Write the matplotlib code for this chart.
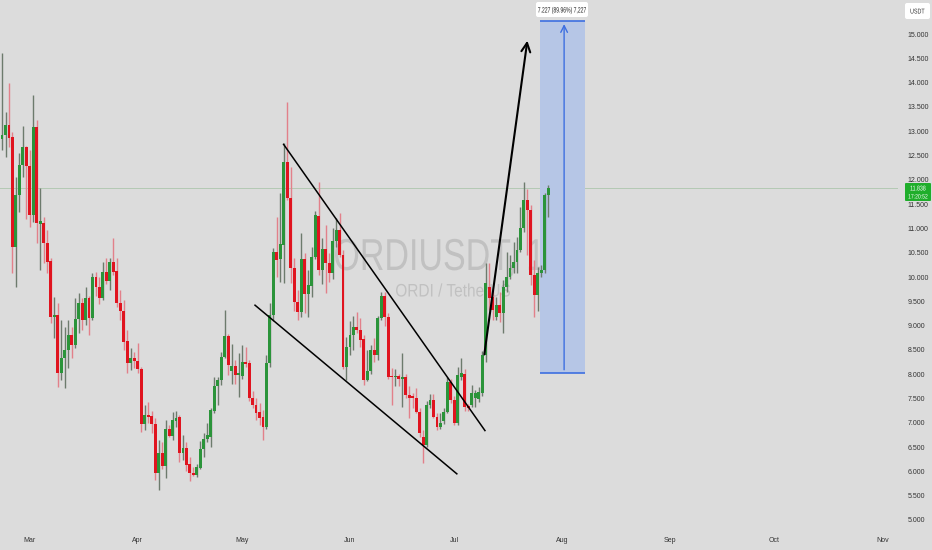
import numpy as np
import pandas as pd
import matplotlib
matplotlib.use("Agg")
import matplotlib.pyplot as plt
import matplotlib.dates as mdates
from matplotlib.textpath import TextPath
from matplotlib.patches import PathPatch, FancyBboxPatch
from matplotlib.font_manager import FontProperties
from matplotlib.transforms import Affine2D, IdentityTransform

# daily candles, first one is 2025-02-21
start_day = "2025-02-21"
opens = [12.84, 12.92, 13.13, 12.88, 10.62, 11.69, 12.30, 12.67, 12.28, 11.28,
         13.09, 11.09, 11.11, 10.70, 10.33, 9.18, 9.22, 8.02, 8.33, 8.50,
         8.81, 8.60, 9.14, 9.47, 9.12, 9.57, 9.16, 10.00, 9.79, 9.57,
         10.10, 9.92, 10.31, 10.12, 9.47, 9.30, 8.68, 8.23, 8.33, 8.27,
         8.10, 6.98, 7.16, 7.14, 6.98, 5.97, 6.38, 6.11, 6.87, 6.73,
         7.04, 7.12, 6.38, 6.48, 6.15, 5.97, 5.93, 6.07, 6.46, 6.67,
         6.71, 7.24, 7.76, 7.88, 8.35, 8.79, 8.06, 8.16, 7.98, 7.96,
         8.25, 8.23, 7.51, 7.37, 7.22, 7.12, 6.91, 8.23, 9.22, 10.51,
         10.38, 10.66, 12.37, 11.63, 10.19, 9.49, 9.28, 10.37, 9.65, 9.82,
         10.41, 11.26, 10.14, 10.57, 10.28, 10.08, 10.74, 10.97, 10.45, 8.15,
         8.56, 8.81, 8.97, 8.90, 8.72, 7.88, 8.07, 8.50, 8.40, 9.16,
         9.61, 9.18, 7.96, 7.94, 7.97, 7.90, 7.94, 7.57, 7.55, 7.51,
         7.22, 6.71, 6.54, 7.37, 7.47, 7.12, 6.91, 7.04, 7.22, 7.84,
         7.47, 7.00, 7.94, 8.00, 7.35, 7.37, 7.51, 7.49, 7.61, 8.40,
         9.79, 9.59, 9.18, 9.42, 9.26, 9.79, 10.00, 10.19, 10.31, 10.55,
         11.00, 11.58, 11.38, 10.04, 9.63, 10.08, 10.14, 11.69]
closes = [12.92, 13.13, 12.86, 10.62, 11.69, 12.30, 12.67, 12.28, 11.28, 13.09,
          11.11, 11.15, 10.70, 10.31, 9.18, 9.22, 8.02, 8.33, 8.50, 8.81,
          8.60, 9.14, 9.47, 9.12, 9.57, 9.16, 10.00, 9.79, 9.57, 10.10,
          9.92, 10.31, 10.10, 9.47, 9.30, 8.66, 8.23, 8.33, 8.27, 8.10,
          6.98, 7.16, 7.12, 6.98, 5.97, 6.38, 6.11, 6.87, 6.73, 7.06,
          7.10, 6.38, 6.48, 6.13, 5.97, 5.93, 6.09, 6.46, 6.67, 6.75,
          7.27, 7.76, 7.88, 8.35, 8.79, 8.19, 8.16, 7.98, 8.02, 8.25,
          8.20, 7.51, 7.37, 7.20, 7.10, 6.91, 8.23, 9.22, 10.51, 10.36,
          10.68, 12.37, 11.63, 10.19, 9.49, 9.28, 10.37, 9.65, 9.84, 10.41,
          11.28, 10.14, 10.57, 10.28, 10.08, 10.74, 10.97, 10.46, 8.15, 8.56,
          8.81, 8.97, 8.90, 8.70, 7.88, 8.07, 8.50, 8.40, 9.16, 9.61,
          9.18, 7.94, 7.94, 7.97, 7.90, 7.95, 7.57, 7.50, 7.51, 7.22,
          6.79, 6.54, 7.37, 7.47, 7.12, 6.91, 7.00, 7.22, 7.84, 7.47,
          7.00, 7.98, 8.02, 7.33, 7.30, 7.61, 7.61, 7.63, 8.40, 9.88,
          9.57, 9.32, 9.42, 9.26, 9.79, 10.00, 10.19, 10.31, 10.55, 11.00,
          11.58, 11.38, 10.04, 9.63, 10.08, 10.14, 11.69, 11.838]
highs = [14.61, 13.40, 13.99, 12.98, 12.06, 12.55, 13.11, 12.69, 12.61, 13.74,
         13.23, 11.83, 11.23, 10.97, 10.39, 9.59, 9.47, 9.12, 8.97, 9.12,
         8.97, 9.57, 9.67, 9.57, 9.79, 9.60, 10.08, 10.10, 10.00, 10.31,
         10.40, 10.40, 10.80, 10.39, 9.73, 9.53, 8.91, 8.54, 8.46, 8.64,
         8.15, 7.37, 7.43, 7.25, 7.10, 6.65, 6.60, 7.06, 6.95, 7.23,
         7.25, 7.16, 6.75, 6.60, 6.30, 6.10, 6.15, 6.62, 6.80, 7.00,
         7.31, 7.94, 7.94, 8.46, 9.32, 8.82, 8.62, 8.30, 8.44, 8.60,
         8.55, 8.30, 7.65, 7.50, 7.40, 7.27, 8.40, 9.46, 10.60, 11.23,
         11.73, 12.76, 13.60, 12.26, 10.40, 9.73, 10.90, 10.50, 10.14, 10.62,
         11.35, 11.95, 10.80, 11.07, 10.50, 11.00, 11.21, 11.32, 10.55, 8.77,
         9.10, 9.20, 9.28, 9.15, 8.81, 8.50, 8.60, 8.74, 9.20, 9.70,
         9.70, 9.25, 8.13, 8.10, 8.00, 8.44, 8.00, 7.75, 7.62, 7.72,
         7.30, 6.85, 7.45, 7.60, 7.60, 7.20, 7.20, 7.30, 7.94, 7.90,
         7.55, 8.15, 8.33, 8.10, 7.38, 7.78, 7.68, 7.74, 8.47, 10.29,
         10.29, 9.73, 9.59, 9.69, 9.94, 10.51, 10.45, 10.72, 10.82, 11.44,
         11.95, 11.82, 11.48, 10.35, 10.20, 10.25, 11.73, 11.89]
lows = [12.61, 12.47, 12.67, 10.08, 9.79, 11.34, 12.06, 11.20, 11.03, 11.13,
        10.70, 10.14, 10.29, 10.08, 9.05, 8.74, 7.74, 7.88, 7.72, 8.13,
        8.33, 8.54, 8.85, 8.91, 9.01, 8.80, 9.12, 9.60, 9.45, 9.53,
        9.85, 9.74, 10.04, 9.38, 9.12, 8.50, 8.02, 8.09, 8.13, 8.02,
        6.82, 6.85, 7.00, 6.80, 5.82, 5.62, 6.05, 5.86, 6.70, 6.65,
        6.92, 6.20, 6.23, 6.00, 5.80, 5.90, 5.88, 6.05, 6.30, 6.60,
        6.50, 7.20, 7.37, 7.78, 8.33, 7.99, 7.80, 7.80, 7.53, 7.90,
        8.15, 7.45, 7.30, 7.05, 6.95, 6.65, 6.88, 8.15, 9.10, 10.00,
        9.90, 9.88, 11.58, 9.88, 9.30, 9.12, 9.18, 9.26, 9.18, 9.59,
        10.38, 10.04, 9.85, 9.67, 9.90, 9.95, 10.62, 10.41, 8.10, 7.88,
        8.40, 8.50, 8.85, 8.55, 7.78, 7.85, 8.00, 8.25, 8.30, 9.12,
        9.00, 7.90, 7.37, 7.75, 7.75, 7.33, 7.50, 7.10, 7.30, 7.20,
        6.70, 6.17, 6.50, 7.30, 7.10, 6.85, 6.88, 6.98, 7.20, 7.40,
        6.95, 6.96, 7.88, 7.25, 7.25, 7.33, 7.33, 7.43, 7.55, 8.25,
        9.32, 9.12, 9.12, 9.08, 8.85, 9.69, 9.95, 10.08, 10.08, 10.51,
        10.93, 10.45, 9.84, 9.18, 9.30, 10.00, 10.08, 11.23]

last_price = 11.838
last_time = "17:20:52"
price_ticks = np.arange(5.0, 15.01, 0.5)
month_ticks = ["2025-03-01", "2025-04-01", "2025-05-01", "2025-06-01", "2025-07-01",
               "2025-08-01", "2025-09-01", "2025-10-01", "2025-11-01"]

# drawings on the chart (date, price)
upper_line = [("2025-05-12 22:00", 12.73), ("2025-07-09 19:00", 6.84)]
lower_line = [("2025-05-04 17:00", 9.42), ("2025-07-01 17:00", 5.95)]
target_arrow = [("2025-07-09 12:00", 8.35), ("2025-07-22 02:00", 14.92)]
range_left, range_right, range_mid = "2025-07-25 14:00", "2025-08-07 12:00", "2025-08-01 13:00"
range_low, range_high = 8.034, 15.261
range_label = "7.227 (89.96%) 7,227"

bg = "#dcdcdc"
up_col, down_col = "#2b943a", "#e0141f"
up_wick, down_wick = "#6d7b6d", "#e2808a"
W, H = 932, 550

days = mdates.date2num(pd.date_range(start_day, periods=len(closes)))
o = np.array(opens); c = np.array(closes); h = np.array(highs); l = np.array(lows)
up = c >= o


def d(s):
    return mdates.date2num(pd.Timestamp(s))


def squeezed(target, x, y, s, cap_px, width_px, color, ha="left", zorder=0):
    # text drawn as a path so it can be narrowed like the screenshot; x, y = pixels from top-left, y = baseline
    tp = TextPath((0, 0), s, size=1, prop=FontProperties(family="Liberation Sans"))
    k = cap_px / 0.716
    ext = tp.get_extents()
    sx = width_px / (ext.width * k)
    left = x if ha == "left" else x - width_px / 2
    tr = Affine2D().translate(-ext.x0, 0).scale(k * sx, k).translate(left, H - y)
    patch = PathPatch(tr.transform_path(tp), fc=color, ec="none", lw=0,
                      transform=IdentityTransform(), zorder=zorder)
    if target is fig:
        fig.add_artist(patch)
    else:
        target.add_artist(patch)


def pixel_box(x0, y0, x1, y1, color, rounding=2, zorder=5):
    b = FancyBboxPatch((x0, H - y1), x1 - x0, y1 - y0, boxstyle="round,pad=0,rounding_size=%g" % rounding,
                       fc=color, ec="none", transform=IdentityTransform(), zorder=zorder)
    fig.add_artist(b)


fig = plt.figure(figsize=(W / 100, H / 100), dpi=100, facecolor=bg)
ax = fig.add_axes([0, 20 / H, 898 / W, 530 / H], facecolor=bg)

# watermark
squeezed(ax, 335, 270, "ORDIUSDT, 1D", 32, 233, "#c1c1c1", zorder=0)
squeezed(ax, 396, 296.5, "ORDI / TetherUS", 13, 114, "#c1c1c1", zorder=0)

# last price line
ax.axhline(last_price, color="#b3c9b3", lw=0.7, zorder=1)

# candles
ax.vlines(days, l, h, colors=np.where(up, up_wick, down_wick), lw=1.0, zorder=2)
body_h = np.maximum(np.abs(c - o), 0.03)
ax.bar(days, body_h, bottom=np.minimum(o, c), width=0.84,
       color=np.where(up, up_col, down_col), linewidth=0, zorder=3)

# wedge lines and the target arrow
for pts in (upper_line, lower_line):
    ax.plot([d(pts[0][0]), d(pts[1][0])], [pts[0][1], pts[1][1]], color="black", lw=1.1, zorder=4)
ax.annotate("", xy=(d(target_arrow[1][0]), target_arrow[1][1]),
            xytext=(d(target_arrow[0][0]), target_arrow[0][1]),
            arrowprops=dict(arrowstyle="->", color="black", lw=1.5, mutation_scale=16), zorder=4)

# price range tool
ax.fill_between([d(range_left), d(range_right)], range_low, range_high, color="#b6c6e6", lw=0, zorder=1.5)
ax.hlines([range_low, range_high], d(range_left), d(range_right), color="#3d6fe0", lw=1.2, zorder=4)
ax.annotate("", xy=(d(range_mid), range_high), xytext=(d(range_mid), range_low),
            arrowprops=dict(arrowstyle="->", color="#3d6fe0", lw=1.0, mutation_scale=12), zorder=4)

ax.set_xlim(d("2025-02-20 10:00"), d("2025-11-05 12:00"))
ax.set_ylim(4.794, 15.70)
ax.yaxis.tick_right()
ax.set_yticks(price_ticks)
ax.set_yticklabels(["%.3f" % v for v in price_ticks])
ax.set_xticks([d(m) for m in month_ticks])
ax.xaxis.set_major_formatter(mdates.DateFormatter("%b"))
ax.tick_params(axis="both", length=0, labelsize=5, colors="#333333")
ax.tick_params(axis="y", pad=7)
ax.tick_params(axis="x", pad=5)
for lab in ax.get_xticklabels() + ax.get_yticklabels():
    lab.set_family("Liberation Sans")
for sp in ax.spines.values():
    sp.set_visible(False)

# range label box
pixel_box(536, 2, 588, 17, "white")
squeezed(fig, 562, 12.5, range_label, 5.5, 48, "#222222", ha="center", zorder=6)

# last price tag on the scale
pixel_box(905, 183, 931, 201, "#1fae2b", rounding=1)
squeezed(fig, 918, 190.5, "%.3f" % last_price, 5, 15, "white", ha="center", zorder=6)
squeezed(fig, 918, 198.5, last_time, 4.5, 19, "white", ha="center", zorder=6)

# header and currency box
squeezed(fig, 3, 11.5, "ORDI / TetherUS · 1D · BINANCE", 5, 77, "#262626")
pixel_box(905, 3, 930, 19, "white", rounding=2)
squeezed(fig, 917.5, 13.5, "USDT", 5, 14, "#333333", ha="center", zorder=6)

fig.savefig("out.png", dpi=100, facecolor=bg)
